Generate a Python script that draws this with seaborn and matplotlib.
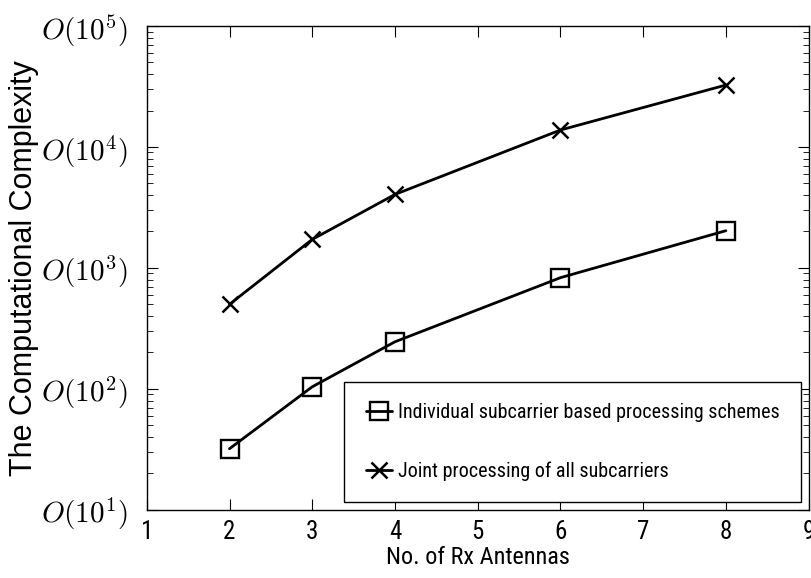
import matplotlib
matplotlib.use("Agg")
import matplotlib.pyplot as plt
import seaborn as sns
from matplotlib.ticker import FixedLocator, LogLocator, NullFormatter

rx_antennas = [2, 3, 4, 6, 8]
individual = [32, 104, 245, 830, 2030]
joint = [500, 1720, 4050, 13800, 32500]
x_ticks = [1, 2, 3, 4, 5, 6, 7, 8, 9]
y_ticks = [1e1, 1e2, 1e3, 1e4, 1e5]
y_tick_labels = [r"$O(10^1)$", r"$O(10^2)$", r"$O(10^3)$", r"$O(10^4)$", r"$O(10^5)$"]

sns.set_style("ticks")
plt.rcParams["mathtext.fontset"] = "cm"
plt.rcParams["text.color"] = "black"
plt.rcParams["axes.labelcolor"] = "black"
narrow = ["Roboto Condensed", "PT Sans Narrow", "Archivo Narrow", "DejaVu Sans"]

fig, ax = plt.subplots(figsize=(8.11, 5.78), dpi=100)
fig.subplots_adjust(left=0.181, right=0.997, top=0.955, bottom=0.118)

sns.lineplot(x=rx_antennas, y=individual, marker="s", color="black", linewidth=2,
             markersize=12.5, markerfacecolor="none", markeredgecolor="black",
             markeredgewidth=1.7, label="Individual subcarrier based processing schemes", ax=ax)
sns.lineplot(x=rx_antennas, y=joint, marker="x", color="black", linewidth=2,
             markersize=12, markeredgecolor="black", markeredgewidth=1.8,
             label="Joint processing of all subcarriers", ax=ax)

ax.set_yscale("log")
ax.set_xlim(1, 9)
ax.set_ylim(10, 1e5)
ax.set_xticks(x_ticks)
ax.set_xticklabels([str(i) for i in x_ticks], family=narrow, fontstretch="condensed",
                   fontsize=18, color="black")
ax.yaxis.set_major_locator(FixedLocator(y_ticks))
ax.set_yticklabels(y_tick_labels, fontsize=21, color="black")
ax.yaxis.set_minor_locator(LogLocator(base=10, subs=range(2, 10)))
ax.yaxis.set_minor_formatter(NullFormatter())
ax.tick_params(which="both", direction="in", top=True, right=True, color="black")
ax.tick_params(which="major", length=8)
ax.tick_params(which="minor", length=4)
ax.tick_params(axis="y", which="major", pad=14)
ax.tick_params(axis="x", which="major", pad=7)
for s in ax.spines.values():
    s.set_color("black")
    s.set_linewidth(1)

ax.set_xlabel("No. of Rx Antennas", family=narrow, fontstretch="condensed",
              fontsize=17.5, labelpad=2)
ax.set_ylabel("The Computational Complexity", family=["Liberation Sans", "DejaVu Sans"],
              fontsize=22, labelpad=1)

leg = ax.legend(loc="lower right",
                prop={"family": narrow, "stretch": "condensed", "size": 14.5},
                frameon=True, fancybox=False, framealpha=1, edgecolor="black",
                handlelength=1.3, handletextpad=0.3, borderpad=1.05, labelspacing=1.95,
                borderaxespad=0, bbox_to_anchor=(0.988, 0.0165))
leg.get_frame().set_linewidth(1)

fig.savefig("out.png", dpi=100)
